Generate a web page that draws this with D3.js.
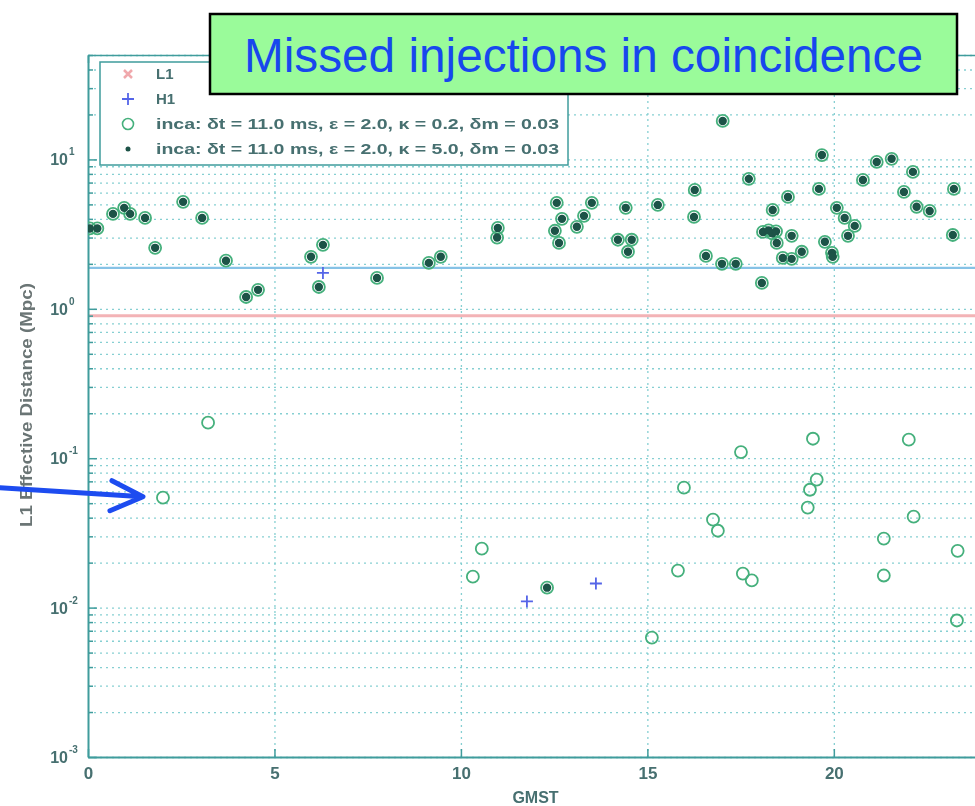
<!DOCTYPE html>
<html>
<head>
<meta charset="utf-8">
<script src="https://cdn.jsdelivr.net/npm/d3@7"></script>
<style>
  html, body { margin: 0; padding: 0; background: #fff; }
  svg { display: block; }
</style>
</head>
<body>
<svg id="chart" width="975" height="806"></svg>
<script>
// GMST (hours) and L1 effective distance (Mpc) of missed injections
// κ = 5.0 run (dots)
const kappa50Missed = [
  [0.05,3.45],[0.25,3.45],[0.67,4.32],[0.97,4.74],[1.13,4.32],[1.53,4.06],[1.80,2.56],
  [2.55,5.2],[3.06,4.06],[3.70,2.10],[4.24,1.20],[4.56,1.34],[5.98,2.23],[6.19,1.40],
  [6.30,2.68],[7.75,1.61],[9.14,2.03],[9.46,2.23],[10.97,3.0],[10.99,3.48],
  [12.31,0.0136],[12.52,3.33],[12.57,5.12],[12.63,2.76],[12.71,4.0],[13.11,3.54],
  [13.30,4.19],[13.51,5.12],[14.21,2.90],[14.42,4.74],[14.48,2.41],[14.58,2.90],
  [15.28,4.96],[16.25,4.12],[16.27,6.25],[16.57,2.26],[17.0,2.0],[17.02,18.1],
  [17.37,2.0],[17.72,7.41],[18.07,1.49],[18.1,3.27],[18.25,3.35],[18.35,3.2],
  [18.36,4.59],[18.45,3.3],[18.47,2.76],[18.63,2.19],[18.77,5.61],[18.87,3.08],
  [18.87,2.16],[19.14,2.41],[19.60,6.35],[19.68,10.7],[19.76,2.81],[19.95,2.37],
  [19.97,2.23],[20.08,4.74],[20.29,4.06],[20.38,3.08],[20.56,3.59],[20.78,7.29],
  [21.15,9.62],[21.55,10.1],[21.88,6.06],[22.12,8.25],[22.22,4.82],[22.57,4.52],
  [23.19,3.12],[23.22,6.35]
];
// κ = 0.2 run (open circles): all κ = 5.0 misses, plus the low-distance misses
const kappa02Extra = [
  [2.01,0.0544],[3.22,0.173],[10.32,0.0161],[10.56,0.0248],[15.12,0.0063],
  [15.82,0.0177],[15.98,0.0635],[16.76,0.0388],[16.89,0.0327],[17.51,0.110],
  [17.56,0.0169],[17.80,0.0152],[19.30,0.0467],[19.36,0.0615],[19.44,0.135],
  [19.54,0.0718],[21.34,0.029],[21.34,0.0164],[22.01,0.133],[22.14,0.0406],
  [23.30,0.0082],[23.32,0.024]
];
const kappa02Missed = kappa50Missed.concat(kappa02Extra);
// H1-only points
const h1Points = [[6.30,1.74],[11.77,0.011],[13.62,0.0145]];
// Detector reference levels
const l1Level = 0.9;
const h1Level = 1.88;

const xTicks = [0, 5, 10, 15, 20];
const yDecades = [-3, -2, -1, 0, 1];
const legendLabels = [
  "L1",
  "H1",
  "inca: δt = 11.0 ms, ε = 2.0, κ = 0.2, δm = 0.03",
  "inca: δt = 11.0 ms, ε = 2.0, κ = 5.0, δm = 0.03"
];
const titleText = "Missed injections in coincidence";

const svg = d3.select("#chart");
const plotL = 88, plotR = 983, plotT = 55, plotB = 757;

const x = d3.scaleLinear().domain([0, 24]).range([plotL, plotR]);
const y = d3.scaleLog().domain([0.001, 50]).range([plotB, plotT]);

const defs = svg.append("defs");
defs.append("filter").attr("id", "soft")
  .attr("x", "-5%").attr("y", "-5%").attr("width", "110%").attr("height", "110%")
  .append("feGaussianBlur").attr("stdDeviation", 0.7);
defs.append("clipPath").attr("id", "plotClip")
  .append("rect").attr("x", plotL).attr("y", plotT).attr("width", plotR - plotL).attr("height", plotB - plotT);

const chart = svg.append("g").attr("filter", "url(#soft)");
const textCol = "#466f70";
const axisCol = "#3f9c9c";
const gridCol = "#86cfd2";
const fontFam = "Liberation Sans, Arial, sans-serif";

// minor and major y grid values
const yGridVals = [];
for (let k = -3; k <= 1; k++) {
  for (let m = 1; m <= 9; m++) {
    const v = m * Math.pow(10, k);
    if (v <= 50) yGridVals.push(v);
  }
}

const grid = chart.append("g");
grid.append("g")
  .attr("transform", `translate(0,${plotB})`)
  .call(d3.axisBottom(x).tickValues(xTicks.slice(1)).tickSize(-(plotB - plotT)).tickFormat(""))
  .call(g => g.select(".domain").remove())
  .call(g => g.selectAll("line").attr("stroke", gridCol).attr("stroke-width", 1.3).attr("stroke-dasharray", "2,4"));
grid.append("g")
  .attr("transform", `translate(${plotL},0)`)
  .call(d3.axisLeft(y).tickValues(yGridVals).tickSize(-(plotR - plotL)).tickFormat(""))
  .call(g => g.select(".domain").remove())
  .call(g => g.selectAll("line").attr("stroke", gridCol).attr("stroke-width", 1.3).attr("stroke-dasharray", "2,4"));

// reference levels
chart.append("line")
  .attr("x1", plotL).attr("x2", plotR).attr("y1", y(l1Level)).attr("y2", y(l1Level))
  .attr("stroke", "#f3b3b6").attr("stroke-width", 3);
chart.append("line")
  .attr("x1", plotL).attr("x2", plotR).attr("y1", y(h1Level)).attr("y2", y(h1Level))
  .attr("stroke", "#86c2e6").attr("stroke-width", 2.2);

// axes box
const axes = chart.append("g");
axes.append("g")
  .attr("transform", `translate(0,${plotB})`)
  .call(d3.axisBottom(x).tickValues(xTicks).tickSizeInner(-8).tickSizeOuter(0).tickPadding(10).tickFormat(d3.format("d")))
  .call(g => g.select(".domain").attr("stroke", axisCol).attr("stroke-width", 2))
  .call(g => g.selectAll(".tick line").attr("stroke", axisCol).attr("stroke-width", 1.5))
  .call(g => g.selectAll("text").attr("fill", textCol).attr("font-family", fontFam)
    .attr("font-size", 17).attr("font-weight", "bold"));
axes.append("g")
  .attr("transform", `translate(0,${plotT})`)
  .call(d3.axisTop(x).tickValues(xTicks).tickSizeInner(-8).tickSizeOuter(0).tickFormat(""))
  .call(g => g.select(".domain").attr("stroke", axisCol).attr("stroke-width", 1.5))
  .call(g => g.selectAll(".tick line").attr("stroke", axisCol).attr("stroke-width", 1.5));
axes.append("g")
  .attr("transform", `translate(${plotL},0)`)
  .call(d3.axisLeft(y).tickValues(yGridVals).tickSizeInner(-5).tickSizeOuter(0).tickFormat(""))
  .call(g => g.select(".domain").attr("stroke", axisCol).attr("stroke-width", 2))
  .call(g => g.selectAll(".tick line").attr("stroke", axisCol).attr("stroke-width", 1.5)
    .attr("x2", d => Math.abs(Math.log10(d) - Math.round(Math.log10(d))) < 1e-9 ? 9 : 5));

// y tick labels: 10 with superscript exponent
const yLab = axes.append("g").attr("font-family", fontFam)
  .attr("fill", textCol).attr("font-weight", "bold");
yDecades.forEach(k => {
  const yy = y(Math.pow(10, k));
  yLab.append("text").attr("x", 68).attr("y", yy + 6).attr("text-anchor", "end")
    .attr("font-size", 16).text("10");
  yLab.append("text").attr("x", 69).attr("y", yy - 4).attr("font-size", 10).text(k);
});

// axis titles
chart.append("text")
  .attr("x", x(12)).attr("y", 803).attr("text-anchor", "middle")
  .attr("font-family", fontFam).attr("font-size", 16).attr("font-weight", "bold")
  .attr("fill", textCol).text("GMST");
chart.append("text")
  .attr("transform", "translate(32,405) rotate(-90)")
  .attr("text-anchor", "middle")
  .attr("font-family", fontFam).attr("font-size", 17).attr("font-weight", "bold")
  .attr("fill", "#6b7474").attr("textLength", 244).attr("lengthAdjust", "spacingAndGlyphs")
  .text("L1 Effective Distance (Mpc)");

// data marks
const marks = chart.append("g").attr("clip-path", "url(#plotClip)");
marks.selectAll("circle.k02").data(kappa02Missed).join("circle")
  .attr("class", "k02")
  .attr("cx", d => x(d[0])).attr("cy", d => y(d[1])).attr("r", 6)
  .attr("fill", "none").attr("stroke", "#45b07c").attr("stroke-width", 1.8);
marks.selectAll("circle.k50").data(kappa50Missed).join("circle")
  .attr("class", "k50")
  .attr("cx", d => x(d[0])).attr("cy", d => y(d[1])).attr("r", 4.2)
  .attr("fill", "#1d5247");
marks.selectAll("path.h1").data(h1Points).join("path")
  .attr("class", "h1")
  .attr("d", d => `M${x(d[0]) - 6},${y(d[1])}h12M${x(d[0])},${y(d[1]) - 6}v12`)
  .attr("stroke", "#5565e8").attr("stroke-width", 1.8);

// legend
const lg = chart.append("g");
lg.append("rect").attr("x", 100).attr("y", 62).attr("width", 468).attr("height", 103)
  .attr("fill", "#fff").attr("stroke", axisCol).attr("stroke-width", 1.5);
const rowY = [74, 99, 124, 149];
const mx = 128;
lg.append("path").attr("d", `M${mx - 4},${rowY[0] - 4}l8,8M${mx + 4},${rowY[0] - 4}l-8,8`)
  .attr("stroke", "#f0a8ac").attr("stroke-width", 2.5);
lg.append("path").attr("d", `M${mx - 6},${rowY[1]}h12M${mx},${rowY[1] - 6}v12`)
  .attr("stroke", "#5565e8").attr("stroke-width", 1.8);
lg.append("circle").attr("cx", mx).attr("cy", rowY[2]).attr("r", 5.5)
  .attr("fill", "none").attr("stroke", "#45b07c").attr("stroke-width", 1.6);
lg.append("circle").attr("cx", mx).attr("cy", rowY[3]).attr("r", 2.5).attr("fill", "#1d5247");
legendLabels.forEach((t, i) => {
  const el = lg.append("text").attr("x", 156).attr("y", rowY[i] + 5)
    .attr("font-family", fontFam).attr("font-size", 15).attr("font-weight", "bold")
    .attr("fill", textCol).text(t);
  if (i >= 2) el.attr("textLength", 403).attr("lengthAdjust", "spacingAndGlyphs");
});

// title box
svg.append("rect").attr("x", 210).attr("y", 14).attr("width", 747).attr("height", 80)
  .attr("fill", "#9afb9a").attr("stroke", "#000").attr("stroke-width", 2.5);
svg.append("text").attr("x", 244).attr("y", 72)
  .attr("font-family", fontFam).attr("font-size", 48)
  .attr("fill", "#1747ee").attr("textLength", 679).attr("lengthAdjust", "spacingAndGlyphs")
  .text(titleText);

// pointer to the lowest-GMST low-distance miss
const target = [x(kappa02Extra[0][0]) - 20, y(kappa02Extra[0][1])];
svg.append("path")
  .attr("d", `M0,${target[1] - 10}L${target[0]},${target[1] - 1}M${target[0] - 31},${target[1] - 17}L${target[0]},${target[1] - 1}L${target[0] - 33},${target[1] + 13}`)
  .attr("fill", "none").attr("stroke", "#1d4cf0").attr("stroke-width", 5)
  .attr("stroke-linecap", "round").attr("stroke-linejoin", "round");
</script>
</body>
</html>
